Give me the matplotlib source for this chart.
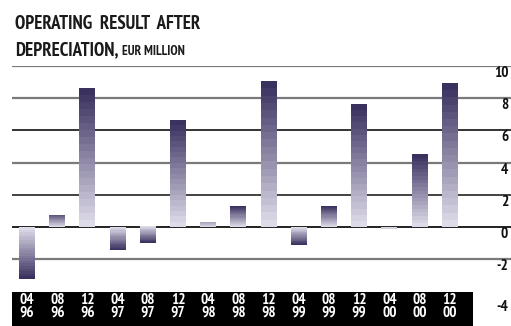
import matplotlib
matplotlib.use("Agg")
import matplotlib.pyplot as plt
import matplotlib.transforms as mtransforms
import numpy as np
from matplotlib.colors import LinearSegmentedColormap
from matplotlib.patches import Rectangle

months = ["04", "08", "12", "04", "08", "12", "04", "08", "12", "04", "08", "12", "04", "08", "12"]
years = ["96", "96", "96", "97", "97", "97", "98", "98", "98", "99", "99", "99", "00", "00", "00"]
values = [-3.2, 0.7, 8.6, -1.4, -1.0, 6.6, 0.3, 1.3, 9.0, -1.1, 1.3, 7.6, -0.1, 4.5, 8.9]
yticks = [-4, -2, 0, 2, 4, 6, 8, 10]
title_line1 = "OPERATING RESULT AFTER"
title_line2 = "DEPRECIATION,"
title_unit = "EUR MILLION"

plt.rcParams['font.family'] = ['PT Sans Narrow', 'DejaVu Sans']

W, H = 511, 326
fig = plt.figure(figsize=(W / 100, H / 100), dpi=100)
ax_left, ax_right = 12 / W, 511 / W
ax_bottom, ax_top = 1 - 291.7 / H, 1 - 65.7 / H
ax = fig.add_axes([ax_left, ax_bottom, ax_right - ax_left, ax_top - ax_bottom])
for s in ax.spines.values():
    s.set_visible(False)

# gridlines
grid_styles = {10: ('#7a7a7a', 1.6), 8: ('#7a7a7a', 1.6), 6: ('#111111', 1.2), 4: ('#7a7a7a', 1.6),
               2: ('#222222', 1.2), 0: ('#111111', 1.3), -2: ('#7a7a7a', 1.6)}
for v, (c, lw) in grid_styles.items():
    ax.axhline(v, color=c, lw=lw, zorder=1)

cmap = LinearSegmentedColormap.from_list("g", ["#dedbe9", "#3b315f"])
bw = 0.53
x = np.arange(len(values))
nb = 20
for xi, v in zip(x, values):
    span = max(abs(v), 0.9)
    frac = np.linspace(0, abs(v) / span, nb)
    img = frac.reshape(-1, 1)
    if v >= 0:
        ext = [xi - bw / 2, xi + bw / 2, 0, v]
        ax.imshow(img, extent=ext, origin='lower', cmap=cmap, vmin=0, vmax=1,
                  aspect='auto', interpolation='nearest', zorder=2)
    else:
        ext = [xi - bw / 2, xi + bw / 2, v, 0]
        ax.imshow(img[::-1], extent=ext, origin='lower', cmap=cmap, vmin=0, vmax=1,
                  aspect='auto', interpolation='nearest', zorder=2)
ax.set_xlim(-0.5, 16.03)
ax.set_ylim(-4, 10)

# black band at bottom
ax.add_patch(Rectangle((-0.5, -4), 14.77 + 0.5, -2.3, facecolor='black', edgecolor='none',
                       clip_on=False, zorder=0.5))

ax.set_xticks(x)
ax.set_xticklabels([m + "\n" + y for m, y in zip(months, years)], color='white',
                   fontsize=11, fontweight='bold', linespacing=0.9)
ax.tick_params(axis='x', length=0, pad=1)

ax.set_yticks(yticks)
ax.set_yticklabels([str(v) for v in yticks], fontsize=11, fontweight='bold', color='#111111')
ax.yaxis.tick_right()
ax.tick_params(axis='y', length=0, pad=-2)
for t, v in zip(ax.get_yticklabels(), yticks):
    t.set_ha('right')
    t.set_va('top')
    if v == -4:
        t.set_transform(t.get_transform() + mtransforms.ScaledTranslation(0, -6 / 72, fig.dpi_scale_trans))

# title
tkw = dict(fontsize=13.5, fontweight='bold', color='#1a1a1a', va='baseline', ha='left')
t1 = fig.text(15 / W, 1 - 29 / H, "  ".join(title_line1.split(" ")), **tkw)
t2 = fig.text(15 / W, 1 - 55 / H, title_line2, **tkw)
fig.canvas.draw()
bb = t2.get_window_extent()
fig.text((bb.x1 + 4) / W, 1 - 55 / H, title_unit, fontsize=9.5, fontweight='bold', color='#1a1a1a',
         va='baseline', ha='left')

fig.savefig("out.png", dpi=100)
